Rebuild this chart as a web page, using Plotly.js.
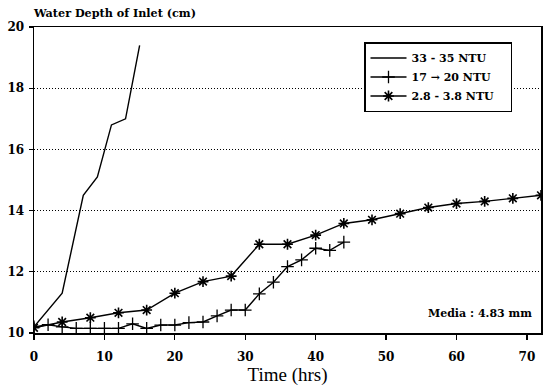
<!DOCTYPE html>
<html>
<head>
<meta charset="utf-8">
<script src="https://cdn.plot.ly/plotly-3.0.1.min.js"></script>
<style>html,body{margin:0;padding:0;background:#fff;}#chart{width:548px;height:388px;}</style>
</head>
<body>
<div id="chart"></div>
<script>
// Series 1: 33 - 35 NTU
const timeHigh = [0, 4, 7, 9, 11, 13, 15];
const depthHigh = [10.2, 11.3, 14.5, 15.1, 16.8, 17.0, 19.4];

// Series 2: 17 - 20 NTU
const timeMid = [0, 2, 4, 6, 8, 10, 12, 14, 16, 18, 20, 22, 24, 26, 28, 30, 32, 34, 36, 38, 40, 42, 44];
const depthMid = [10.2, 10.27, 10.2, 10.15, 10.15, 10.15, 10.15, 10.3, 10.15, 10.26, 10.26, 10.34, 10.36, 10.56, 10.75, 10.75, 11.28, 11.66, 12.17, 12.39, 12.77, 12.7, 12.97];

// Series 3: 2.8 - 3.8 NTU
const timeLow = [0, 4, 8, 12, 16, 20, 24, 28, 32, 36, 40, 44, 48, 52, 56, 60, 64, 68, 72];
const depthLow = [10.17, 10.36, 10.5, 10.66, 10.75, 11.3, 11.68, 11.86, 12.9, 12.9, 13.2, 13.58, 13.7, 13.9, 14.1, 14.23, 14.3, 14.4, 14.5];

const seriesNames = ["33 - 35 NTU", "17 \u2192 20 NTU", "2.8 - 3.8 NTU"];
const xTicks = [0, 10, 20, 30, 40, 50, 60, 70];
const yTicks = [10, 12, 14, 16, 18, 20];

const tickFont = {family: "DejaVu Serif", size: 12, color: "#000", weight: "bold"};
const pad = "\u00a0\u00a0\u00a0";

const traces = [
  {x: timeHigh, y: depthHigh, name: seriesNames[0] + pad, mode: "lines",
   line: {color: "#000", width: 1.4}},
  {x: timeMid, y: depthMid, name: seriesNames[1] + pad, mode: "lines+markers",
   line: {color: "#000", width: 1.4},
   marker: {symbol: "cross-thin-open", size: 9, color: "#000", line: {color: "#000", width: 1.3}}},
  {x: timeLow, y: depthLow, name: seriesNames[2] + pad, mode: "lines+markers",
   line: {color: "#000", width: 1.4},
   marker: {symbol: "asterisk-open", size: 9, color: "#000", line: {color: "#000", width: 1.6}}}
];

const layout = {
  width: 548, height: 388,
  margin: {l: 34, r: 7, t: 27, b: 55},
  paper_bgcolor: "#fff", plot_bgcolor: "#fff",
  showlegend: true,
  title: {text: "<b>Water Depth of Inlet (cm)</b>", x: 34/548, xanchor: "left", xref: "container",
          y: 1 - 13/388, yanchor: "middle", yref: "container",
          font: {family: "DejaVu Serif", size: 11.2, color: "#000"}},
  xaxis: {range: [0, 72], tickvals: xTicks, ticks: "outside", ticklen: 5, tickwidth: 1.2,
          tickcolor: "#000", showline: true, linecolor: "#000", linewidth: 1.5, mirror: true,
          showgrid: false, zeroline: false, tickfont: tickFont, ticklabelstandoff: 7,
          title: {text: "Time (hrs)", font: {family: "Liberation Serif", size: 19, color: "#000"}, standoff: 4}},
  yaxis: {range: [10, 20], tickvals: yTicks, ticks: "outside", ticklen: 4, tickwidth: 1.2,
          tickcolor: "#000", showline: true, linecolor: "#000", linewidth: 1.5, mirror: true,
          showgrid: true, gridcolor: "#000", griddash: "1px,2px", gridwidth: 1, zeroline: false,
          tickfont: tickFont, ticklabelstandoff: 2},
  legend: {x: (364-34)/507, y: (333-42)/306, xanchor: "left", yanchor: "top",
           bgcolor: "#fff", bordercolor: "#000", borderwidth: 1.5,
           font: {family: "DejaVu Serif", size: 11, color: "#000", weight: "bold"},
           tracegroupgap: 0, itemwidth: 36},
  annotations: [
    {text: "<b>Media : 4.83 mm</b>", xref: "paper", yref: "paper", x: (534-34)/507, y: (333-313)/306,
     xanchor: "right", yanchor: "middle", showarrow: false,
     font: {family: "DejaVu Serif", size: 11, color: "#000"}}
  ]
};

Plotly.newPlot("chart", traces, layout, {staticPlot: true, displayModeBar: false});
</script>
</body>
</html>
